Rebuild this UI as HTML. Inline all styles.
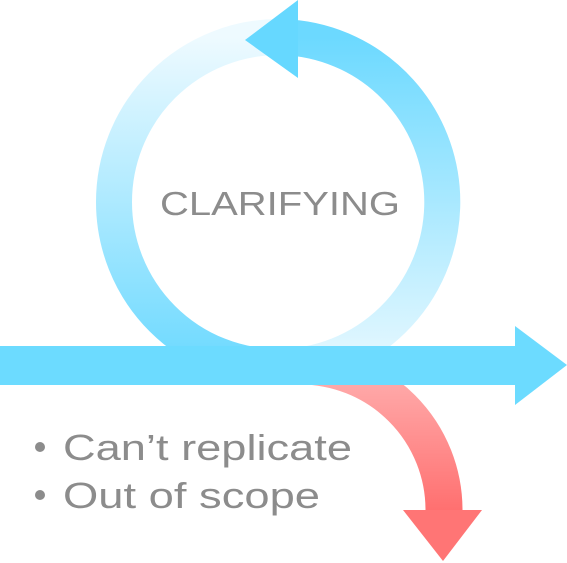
<!DOCTYPE html>
<html><head><style>html,body{margin:0;padding:0;background:#fff;width:567px;height:563px;overflow:hidden}</style></head>
<body>
<svg width="567" height="563" viewBox="0 0 567 563" xmlns="http://www.w3.org/2000/svg">
<defs>
<linearGradient id="gR" x1="0" y1="0" x2="0" y2="1"><stop offset="0" stop-color="#6cd9ff"/><stop offset="1" stop-color="#e6f8ff"/></linearGradient>
<linearGradient id="gL" x1="0" y1="1" x2="0" y2="0"><stop offset="0" stop-color="#6cd9ff"/><stop offset="1" stop-color="#eefaff"/></linearGradient>
<linearGradient id="gRed" x1="0" y1="0" x2="0" y2="1"><stop offset="0" stop-color="#ffb0b0"/><stop offset="1" stop-color="#ff7070"/></linearGradient>
</defs>
<path d="M279 367 A165 165 0 0 1 279 37" fill="none" stroke="url(#gL)" stroke-width="36"/>
<path d="M290 37.5 A165 165 0 0 1 279 367" fill="none" stroke="url(#gR)" stroke-width="36"/>
<polygon points="245,40 298,0 298,78" fill="#66d8ff"/>
<path d="M300 366 A144 144 0 0 1 444 510" fill="none" stroke="url(#gRed)" stroke-width="37"/>
<polygon points="403,510 482,510 443,561" fill="#ff7575"/>
<rect x="0" y="346" width="516" height="39" fill="#6cdbff"/>
<polygon points="515,326 567,365 515,405" fill="#6cdbff"/>
<text x="160" y="215" textLength="240" lengthAdjust="spacingAndGlyphs" font-family="Liberation Sans, sans-serif" font-size="33" fill="#8c8c8c">CLARIFYING</text>
<g font-family="Liberation Sans, sans-serif" font-size="36" fill="#8c8c8c">
<circle cx="40" cy="447" r="5"/><text x="63" y="460" textLength="289" lengthAdjust="spacingAndGlyphs">Can’t replicate</text>
<circle cx="40" cy="495" r="5"/><text x="63" y="508" textLength="257" lengthAdjust="spacingAndGlyphs">Out of scope</text>
</g>
</svg>
</body></html>
